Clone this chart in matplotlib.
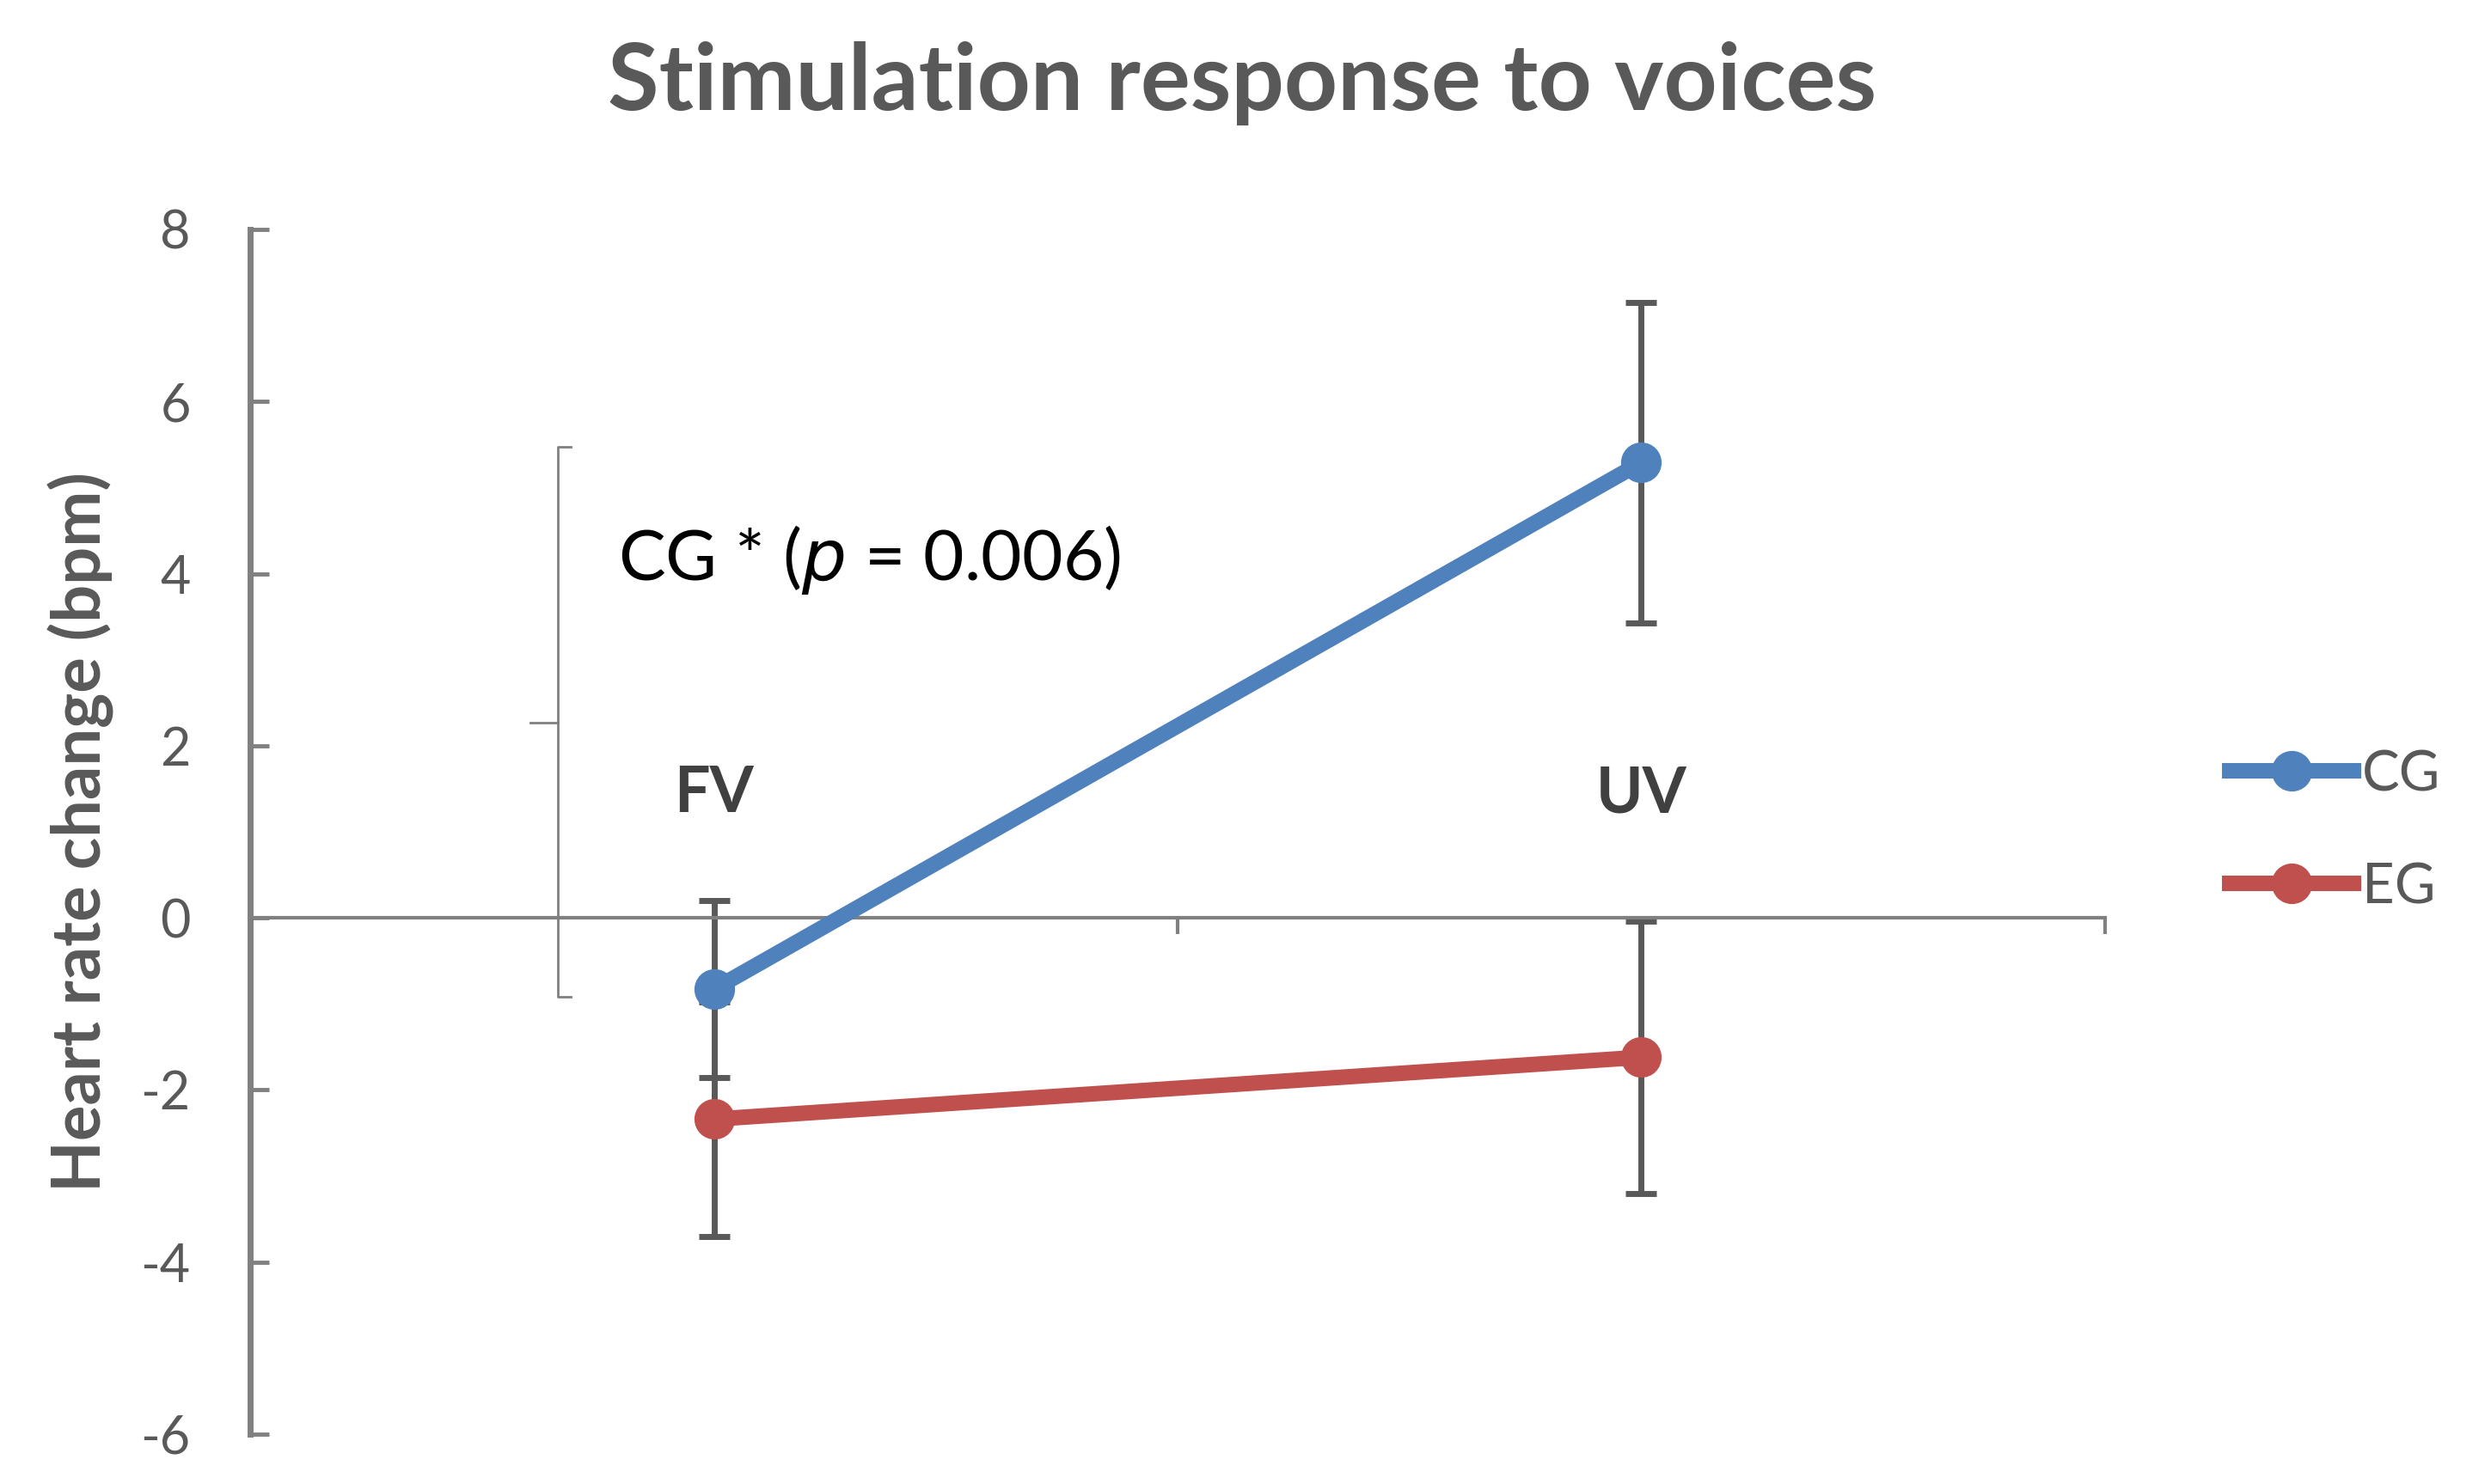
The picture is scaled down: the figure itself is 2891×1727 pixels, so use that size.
import numpy as np
import matplotlib.pyplot as plt
from matplotlib.lines import Line2D

# data
categories = ['FV', 'UV']
cg_mean = [-0.83, 5.29]
cg_err = [1.03, 1.86]
eg_mean = [-2.34, -1.62]
eg_err = [1.36, 1.58]
groups = ['CG', 'EG']
yticks = [-6, -4, -2, 0, 2, 4, 6, 8]

plt.rcParams['font.family'] = ['Lato', 'DejaVu Sans']
plt.rcParams['axes.unicode_minus'] = False
grey = '#595959'
axis_grey = '#808080'
blue = '#4F81BD'
red = '#C0504D'

fig = plt.figure(figsize=(28.91, 17.27), dpi=100)
ax = fig.add_axes([0.1007, 0.0336, 0.7463, 0.8118])

x = np.arange(len(categories))

# error bars behind the lines
ax.errorbar(x, cg_mean, yerr=cg_err, fmt='none', ecolor=grey, elinewidth=5, capsize=13, capthick=5, zorder=2)
ax.errorbar(x, eg_mean, yerr=eg_err, fmt='none', ecolor=grey, elinewidth=5, capsize=13, capthick=5, zorder=2)

ax.plot(x, cg_mean, color=blue, lw=13, marker='o', ms=33, zorder=4, solid_capstyle='round')
ax.plot(x, eg_mean, color=red, lw=13, marker='o', ms=33, zorder=3, solid_capstyle='round')

ax.set_xlim(-0.5, 1.5)
ax.set_ylim(-6, 8)

# axes styling
for s in ['top', 'right']:
    ax.spines[s].set_visible(False)
ax.spines['left'].set_color(axis_grey)
ax.spines['left'].set_linewidth(5)
ax.spines['bottom'].set_position(('data', 0))
ax.spines['bottom'].set_color(axis_grey)
ax.spines['bottom'].set_linewidth(3)

ax.set_yticks(yticks)
ax.tick_params(axis='y', direction='in', length=16, width=3.5, color=axis_grey,
               labelsize=44, labelcolor=grey, pad=50)
ax.set_xticks([0.5, 1.5])
ax.set_xticklabels([])
ax.tick_params(axis='x', direction='out', length=14, width=3, color=axis_grey)
# flip x ticks upward
for t in ax.xaxis.get_major_ticks():
    t.tick1line.set_marker(3)

for xi, c in zip(x, categories):
    ax.text(xi, 1.44, c, ha='center', va='center', fontsize=53, fontweight='bold', color='#404040')

# significance bracket
bx = -0.168
ax.plot([bx + 0.014, bx, bx, bx + 0.014], [5.47, 5.47, -0.92, -0.92], color=axis_grey, lw=2, zorder=1)
ax.plot([bx - 0.03, bx], [2.27, 2.27], color=axis_grey, lw=2, zorder=1)
ax.text(-0.103, 4.16, 'CG * ($\\it{p}$ = 0.006)', fontsize=59, color='black', va='center', ha='left')

ax.set_ylabel('Heart rate change (bpm)', fontsize=56, fontweight='bold', color=grey, labelpad=22)

fig.text(0.5, 0.944, 'Stimulation response to voices', fontsize=78, fontweight='bold', color=grey,
         ha='center', va='center')

handles = [Line2D([], [], color=blue, lw=13, marker='o', ms=33),
           Line2D([], [], color=red, lw=13, marker='o', ms=33)]
fig.legend(handles, groups, loc='center left', bbox_to_anchor=(0.877, 0.44), frameon=False,
           fontsize=47, labelcolor=grey, handlelength=2.2, handletextpad=0.15, labelspacing=1.1)

fig.savefig('out.png', dpi=100)
